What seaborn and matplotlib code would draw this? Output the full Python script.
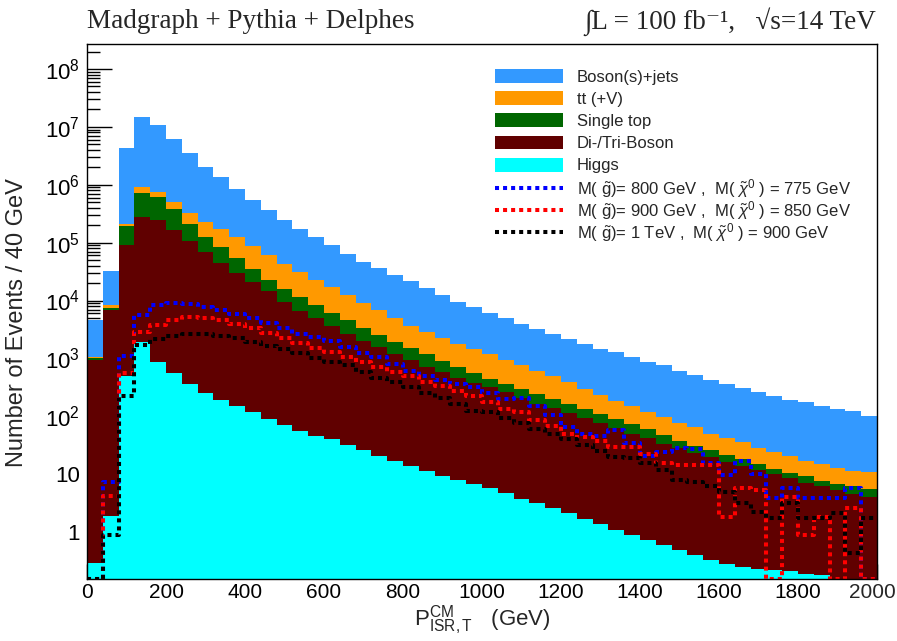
import numpy as np
import pandas as pd
import seaborn as sns
import matplotlib.pyplot as plt
from matplotlib.patches import Patch
from matplotlib.lines import Line2D
from matplotlib.ticker import FixedLocator, FuncFormatter, MultipleLocator, NullFormatter

# ---- data (events / 40 GeV) ----
bin_width = 40
x_range = (0, 2000)
bin_centers = np.arange(x_range[0], x_range[1], bin_width) + bin_width / 2

processes = ["Boson(s)+jets", "tt (+V)", "Single top", "Di-/Tri-Boson", "Higgs"]
process_colors = ["#3399FF", "#FF9900", "#006600", "#600000", "#00FFFF"]

boson_jets = [3600, 24000, 4.16e6, 1.39e7, 9.96e6, 5.65e6, 3.26e6, 1.81e6, 1.175e6, 7.25e5,
              4.62e5, 3.03e5, 2.085e5, 1.38e5, 1.006e5, 74200, 50500, 37900, 29400, 22500,
              17700, 13800, 10350, 7770, 6280, 4820, 4060, 3130, 2545, 2140,
              1750, 1476, 1245, 1100, 924, 754, 663, 539, 448, 377,
              320, 274, 234, 205, 170, 157, 136, 122, 111, 91]
ttbar = [49, 730, 18400, 187600, 156000, 132700, 117300, 103200, 90600, 72200,
         51600, 37350, 26800, 19870, 13880, 10820, 8020, 5600, 4350, 3060,
         2120, 1640, 1330, 1070, 917, 765, 592, 464, 377, 290,
         227, 167, 124, 97, 74, 57, 47.6, 39.6, 33.7, 24.4,
         20.8, 17.3, 14.0, 11.7, 10.2, 7.7, 7.0, 6.1, 5.2, 5.5]
single_top = [68, 670, 99300, 442600, 357100, 214200, 106600, 58300, 38500, 23500,
              14590, 8455, 6300, 5140, 3610, 2535, 1880, 1316, 1021, 775,
              581, 451, 337, 251, 182, 121, 100, 86, 74, 62,
              50, 42, 34, 26, 24, 18.6, 14.0, 9.8, 7.5, 6.2,
              5.3, 4.4, 3.1, 2.3, 2.2, 2.2, 1.6, 1.55, 1.73, 1.52]
diboson = [955, 6900, 90700, 279900, 244600, 165400, 106800, 67350, 44480, 30050,
           20770, 14365, 9480, 6550, 4852, 3591, 2660, 1969, 1528, 1158,
           919, 712, 566, 449, 373, 310, 258, 205, 163, 135,
           110, 91, 74.6, 62, 49, 41, 33.3, 27.7, 23, 19.2,
           16.3, 13.55, 11.5, 9.8, 8.3, 6.9, 6.0, 5.1, 4.45, 3.86]
higgs = [0.29, 1.9, 490, 1950, 870, 550, 360, 257, 190, 150,
         120, 89, 71, 55, 46, 40, 32, 26, 21, 17,
         14, 11.5, 9.3, 7.9, 6.8, 5.8, 4.7, 3.8, 3.2, 2.6,
         2.1, 1.7, 1.4, 1.1, 0.9, 0.72, 0.6, 0.49, 0.41, 0.33,
         0.28, 0.25, 0.23, 0.22, 0.21, 0.19, 0.18, 0.14, 0.12, 0.12]

signal_labels = [
    r"M( $\tilde{\mathrm{g}}$)= 800 GeV ,  M( $\tilde{\chi}^{0}$ ) = 775 GeV",
    r"M( $\tilde{\mathrm{g}}$)= 900 GeV ,  M( $\tilde{\chi}^{0}$ ) = 850 GeV",
    r"M( $\tilde{\mathrm{g}}$)= 1 TeV ,  M( $\tilde{\chi}^{0}$ ) = 900 GeV",
]
signal_colors = ["#0000FF", "#FF0000", "#000000"]
sig_800_775 = [0, 7.4, 1120, 5620, 8320, 8910, 8710, 7760, 6920, 5890,
               4900, 4070, 3310, 2690, 2340, 2000, 1585, 1260, 1050, 794,
               603, 501, 427, 363, 316, 251, 200, 209, 148, 105,
               66, 50, 45, 58, 35, 21, 24, 28, 27, 15.5,
               9.8, 16.6, 10, 3.9, 5.75, 3.9, 3.9, 3.9, 5.75, 0]
sig_900_850 = [0, 4.2, 550, 2820, 3800, 4680, 5130, 4900, 4570, 3980,
               3310, 2750, 2240, 1820, 1510, 1290, 1070, 851, 724, 589,
               490, 398, 339, 275, 224, 174, 135, 120, 87, 69,
               50, 44, 37, 30, 30, 22.4, 15.8, 14.5, 14.5, 14.5,
               1.8, 5.75, 5.4, 0, 4.1, 0.9, 1.86, 0, 2.6, 0]
sig_1000_900 = [0, 0.9, 224, 1700, 2140, 2450, 2630, 2630, 2450, 2240,
                1950, 1660, 1445, 1230, 1000, 871, 776, 589, 468, 398,
                324, 257, 204, 162, 126, 117, 93, 76, 60, 50,
                40, 32, 25, 20, 19, 15.5, 11.7, 7.9, 7.4, 6.2,
                5.0, 3.2, 2.24, 1.74, 3.2, 1.74, 1.74, 2.14, 0.44, 1.74]
signals = [sig_800_775, sig_900_850, sig_1000_900]

y_min, y_max = 0.155, 2.7e8

# ---- style ----
sns.set_style("ticks", {"xtick.direction": "in", "ytick.direction": "in"})
plt.rcParams["font.family"] = ["Liberation Sans", "DejaVu Sans"]
plt.rcParams["mathtext.fontset"] = "custom"
plt.rcParams["mathtext.rm"] = "Liberation Sans"
plt.rcParams["mathtext.it"] = "Liberation Sans:italic"
plt.rcParams["mathtext.bf"] = "Liberation Sans:bold"
plt.rcParams["mathtext.sf"] = "Liberation Sans"

fig = plt.figure(figsize=(8.97, 6.41), dpi=100)
ax = fig.add_axes([87 / 897, 1 - 579 / 641, 790 / 897, 535 / 641])

bkg = pd.DataFrame({
    "pt": np.tile(bin_centers, len(processes)),
    "events": np.concatenate([boson_jets, ttbar, single_top, diboson, higgs]),
    "process": np.repeat(processes, len(bin_centers)),
})

# last hue level ends up at the bottom of the stack -> Higgs at the bottom
sns.histplot(data=bkg, x="pt", weights="events", hue="process", hue_order=processes,
             palette=dict(zip(processes, process_colors)),
             binwidth=bin_width, binrange=x_range,
             multiple="stack", element="step", fill=True, alpha=1, linewidth=0,
             legend=False, ax=ax)

dash = (0, (1.0, 1.0))
sig_lw = 2.9
for vals, col in zip(signals, signal_colors):
    # empty bins are drawn on the frame, as ROOT does
    sns.histplot(x=bin_centers, weights=np.maximum(vals, y_min * 1.02),
                 binwidth=bin_width, binrange=x_range,
                 element="step", fill=False, color=col, linewidth=sig_lw, linestyle=dash,
                 ax=ax)

ax.set_yscale("log")
ax.set_xlim(*x_range)
ax.set_ylim(y_min, y_max)


def log_label(v, pos):
    e = int(round(np.log10(v)))
    if e == 0:
        return "1"
    if e == 1:
        return "10"
    return rf"$10^{{{e}}}$"


def x_label(v, pos):
    # the last label is placed by hand so it stays inside the picture
    return "" if v >= x_range[1] else f"{v:.0f}"


decades = 10.0 ** np.arange(0, 9)
minor = [m * d for d in 10.0 ** np.arange(-1, 9) for m in range(2, 10)
         if y_min <= m * d <= y_max]
ax.yaxis.set_major_locator(FixedLocator(decades))
ax.yaxis.set_minor_locator(FixedLocator(minor))
ax.yaxis.set_major_formatter(FuncFormatter(log_label))
ax.yaxis.set_minor_formatter(NullFormatter())
ax.xaxis.set_major_locator(MultipleLocator(200))
ax.xaxis.set_minor_locator(MultipleLocator(40))
ax.xaxis.set_major_formatter(FuncFormatter(x_label))

ax.tick_params(axis="both", which="both", direction="in", top=False, right=False,
               color="black", width=1, labelcolor="black")
ax.tick_params(axis="x", which="major", length=11, pad=3, labelsize=15)
ax.tick_params(axis="x", which="minor", length=5.5)
ax.tick_params(axis="y", which="major", length=18, pad=5, labelsize=16)
ax.tick_params(axis="y", which="minor", length=9)
for s in ax.spines.values():
    s.set_color("black")
    s.set_linewidth(1)
    s.set_zorder(5)

ax.annotate(f"{x_range[1]}", xy=(x_range[1], 0), xycoords=("data", "axes fraction"),
            xytext=(13.5, -3), textcoords="offset points", ha="right", va="top",
            fontsize=15)

ax.set_xlabel(r"P$^{\mathrm{CM}}_{\mathrm{ISR,T}}$   (GeV)", fontsize=16, labelpad=1)
ax.set_ylabel("Number of Events / 40 GeV", fontsize=17, labelpad=12)
ax.yaxis.set_label_coords(-0.075, 0.48)

leg_kw = dict(loc="upper left", bbox_transform=fig.transFigure, frameon=False,
              fontsize=12, handlelength=4.1, handleheight=0.9, handletextpad=0.8,
              borderpad=0, borderaxespad=0)
bkg_handles = [Patch(facecolor=c, edgecolor="none") for c in process_colors]
leg1 = ax.legend(bkg_handles, processes, bbox_to_anchor=(495 / 897, 1 - 69 / 641),
                 labelspacing=0.39, **leg_kw)
ax.add_artist(leg1)
sig_handles = [Line2D([], [], color=c, linewidth=sig_lw, linestyle=dash) for c in signal_colors]
ax.legend(sig_handles, signal_labels, bbox_to_anchor=(495 / 897, 1 - 177 / 641),
          labelspacing=-0.05, **leg_kw)

fig.text(87 / 897, 1 - 22 / 641, "Madgraph + Pythia + Delphes", fontsize=19.5,
         family=["Liberation Serif", "DejaVu Serif"], va="center", ha="left")
fig.text(876 / 897, 1 - 22 / 641, "∫L = 100 fb⁻¹,   √s=14 TeV", fontsize=19.5,
         family=["Liberation Serif", "DejaVu Serif"], va="center", ha="right")

fig.savefig("out.png", dpi=100)
